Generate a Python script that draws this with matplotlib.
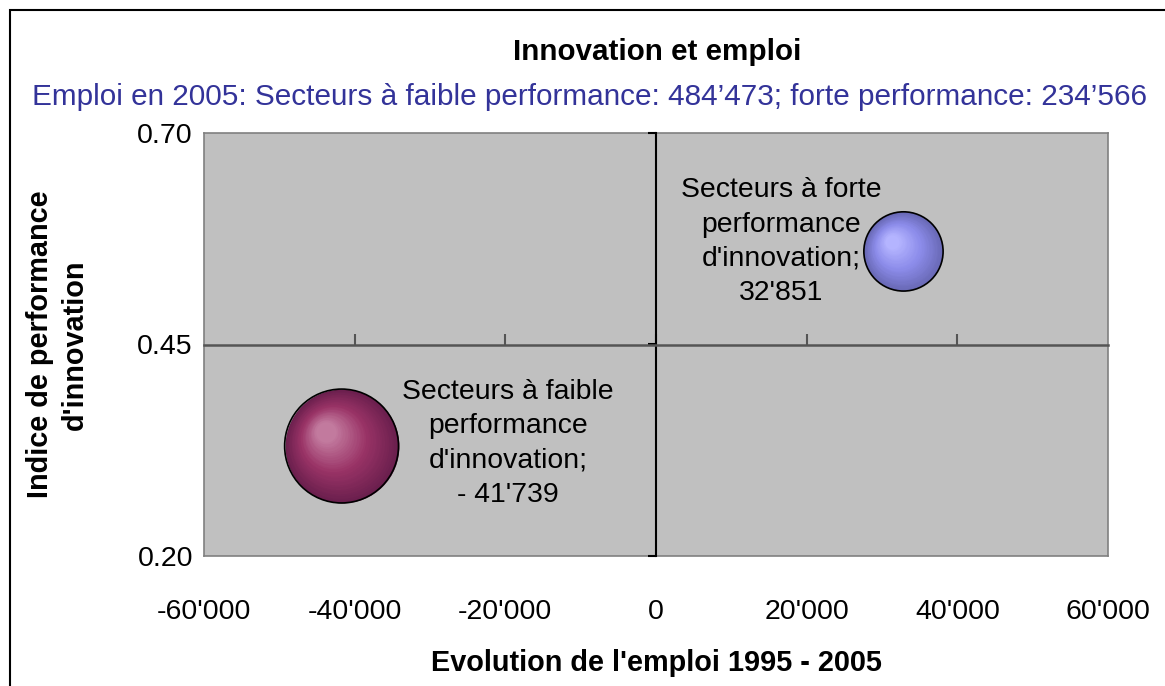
import matplotlib
matplotlib.use("Agg")
import matplotlib.pyplot as plt
import matplotlib.ticker as mticker
import numpy as np
from matplotlib.colors import to_rgb
from matplotlib.patches import Rectangle
from matplotlib.transforms import ScaledTranslation

plt.rcParams["font.family"] = ["Liberation Sans", "DejaVu Sans"]

# Données
sectors = ["Secteurs à faible\nperformance\nd'innovation", "Secteurs à forte\nperformance\nd'innovation"]
emploi_evolution = [-41739, 32851]
indice_innovation = [0.33, 0.56]
emploi_2005 = [484473, 234566]
x_ticks = [-60000, -40000, -20000, 0, 20000, 40000, 60000]
y_ticks = [0.20, 0.45, 0.70]

# Couleurs des bulles : bord, milieu, reflet
BUBBLE_COLORS = [
    ("#6A1F4D", "#993366", "#C27A9E"),
    ("#6868B4", "#8C8CEA", "#B4B4FF"),
]
PLOT_BG = "#C0C0C0"
FRAME_COLOR = "#808080"
SUB_COLOR = "#333399"
MAX_DIAM_PT = 82.0
# décalage des étiquettes (points)
LABEL_OFFSETS = [(120, 2), (-88, 7)]


def fmt_milliers(v):
    s = f"{abs(int(round(v))):,}".replace(",", "'")
    return s if v >= 0 else "-" + s


def fmt_label(v):
    s = f"{abs(int(round(v))):,}".replace(",", "'")
    return s if v >= 0 else "- " + s


def lerp(c1, c2, t):
    a, b = np.array(to_rgb(c1)), np.array(to_rgb(c2))
    return tuple(a + (b - a) * t)


fig = plt.figure(figsize=(11.65, 6.86), dpi=100)
fig.patch.set_facecolor("white")
pos = [204 / 1165, 1 - 556 / 686, 904 / 1165, 423 / 686]

ax = fig.add_axes(pos)
ax.set_facecolor(PLOT_BG)
ax.set_xlim(-60000, 60000)
ax.set_ylim(0.20, 0.70)
ax.set_xticks(x_ticks)
ax.set_yticks(y_ticks)
ax.xaxis.set_major_formatter(mticker.FuncFormatter(lambda v, _: fmt_milliers(v)))
ax.yaxis.set_major_formatter(mticker.FuncFormatter(lambda v, _: f"{v:.2f}"))
ax.tick_params(axis="both", length=0, labelsize=20.5, colors="black")
ax.tick_params(axis="x", pad=31)
ax.tick_params(axis="y", pad=8)
for sp in ax.spines.values():
    sp.set_color(FRAME_COLOR)
    sp.set_linewidth(1.2)

# axes qui se croisent en (0, 0.45)
ax_t = fig.add_axes(pos, sharex=ax, sharey=ax)
ax_t.patch.set_visible(False)
ax_t.spines["top"].set_visible(False)
ax_t.spines["right"].set_visible(False)
ax_t.spines["left"].set_position(("data", 0))
ax_t.spines["bottom"].set_position(("data", 0.45))
ax_t.spines["left"].set_color("black")
ax_t.spines["left"].set_linewidth(1.5)
ax_t.spines["bottom"].set_color("#555555")
ax_t.spines["bottom"].set_linewidth(1.8)
ax_t.tick_params(axis="x", direction="in", length=8, width=1.5, color="#555555",
                 labelbottom=False)
ax_t.tick_params(axis="y", direction="out", length=6, width=1.5, color="black",
                 labelleft=False)
xt = ax_t.xaxis.get_major_ticks()
for tk in (xt[0], xt[-1]):
    tk.tick1line.set_visible(False)

# bulles avec dégradé radial
sizes = [e / max(emploi_2005) * MAX_DIAM_PT ** 2 for e in emploi_2005]
n_rings = 28
for x, y, s, (edge, mid, light) in zip(emploi_evolution, indice_innovation, sizes, BUBBLE_COLORS):
    r = np.sqrt(s) / 2
    for i in range(n_rings):
        t = i / (n_rings - 1)
        rr = r * (1 - 0.82 * t)
        dx, dy = -0.28 * r * t, 0.25 * r * t
        col = lerp(edge, mid, t / 0.5) if t < 0.5 else lerp(mid, light, (t - 0.5) / 0.5)
        tr = ax_t.transData + ScaledTranslation(dx / 72, dy / 72, fig.dpi_scale_trans)
        ax_t.scatter([x], [y], s=(2 * rr) ** 2, color=col, linewidths=0,
                     transform=tr, zorder=3)
    ax_t.scatter([x], [y], s=s, facecolor="none", edgecolor="black",
                 linewidths=1.2, zorder=4)

for name, x, y, off in zip(sectors, emploi_evolution, indice_innovation, LABEL_OFFSETS):
    ax_t.annotate(f"{name};\n{fmt_label(x)}", xy=(x, y), xytext=off,
                  textcoords="offset points", ha="center", va="center",
                  fontsize=20.4, linespacing=1.42, zorder=5)

ax.set_xlabel("Evolution de l'emploi 1995 - 2005", fontsize=20.8, fontweight="bold")
ax.xaxis.set_label_coords(0.5, -0.253)
ax.xaxis.label.set_va("center")
ax.set_ylabel("Indice de performance\nd'innovation", fontsize=20.8, fontweight="bold",
              linespacing=1.3)
ax.yaxis.set_label_coords(-0.162, 0.5)
ax.yaxis.label.set_va("center")

fig.text(657 / 1165, 1 - 52 / 686, "Innovation et emploi", ha="center", va="center",
         fontsize=21.3, fontweight="bold")
fig.text(590 / 1165, 1 - 97 / 686,
         f"Emploi en 2005: Secteurs à faible performance: {fmt_milliers(emploi_2005[0]).replace(chr(39), '’')}; "
         f"forte performance: {fmt_milliers(emploi_2005[1]).replace(chr(39), '’')}",
         ha="center", va="center", fontsize=21.4, color=SUB_COLOR)

# cadre du graphique
fig.patches.append(Rectangle((10 / 1165, -0.1), 1.2, 1.1 - 10 / 686, transform=fig.transFigure,
                             fill=False, edgecolor="black", linewidth=1.5))

fig.savefig("out.png", dpi=100, facecolor="white")
plt.close(fig)
